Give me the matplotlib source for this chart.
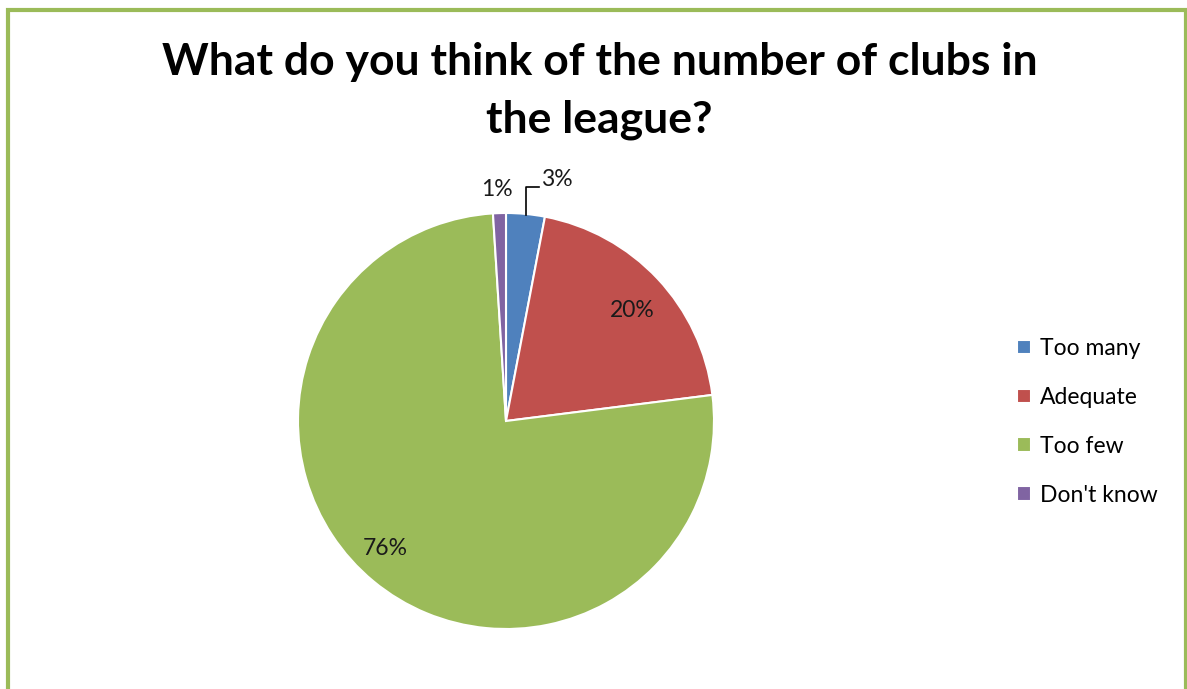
import matplotlib.pyplot as plt
from matplotlib.patches import Rectangle

categories = ['Too many', 'Adequate', 'Too few', "Don't know"]
shares = [3, 20, 76, 1]
colors = ['#4F81BD', '#C0504D', '#9BBB59', '#8064A2']

plt.rcParams['font.family'] = ['Lato', 'DejaVu Sans']

W, H = 1187, 689
fig = plt.figure(figsize=(W / 100, H / 100), dpi=100)

# green frame around the chart area
fig.patches.append(Rectangle((8 / W, -0.01), (1186 - 8) / W, (H - 10) / H + 0.01,
                             transform=fig.transFigure, fill=False,
                             edgecolor='#9BBB59', linewidth=3))

cx, cy, r = 506, 421, 208
ax = fig.add_axes([(cx - r) / W, (H - cy - r) / H, 2 * r / W, 2 * r / H])
wedges, _ = ax.pie(shares, colors=colors, startangle=90, counterclock=False,
                   radius=1, wedgeprops=dict(edgecolor='white', linewidth=1.5))
ax.set_xlim(-1, 1)
ax.set_ylim(-1, 1)
ax.set_aspect('equal')
ax.axis('off')

# percentage labels
label_pos = [(0.168, 1.16), (0.608, 0.53), (-0.582, -0.611), (-0.043, 1.112)]
label_ha = ['left', 'center', 'center', 'center']
for (x, y), ha, v in zip(label_pos, label_ha, shares):
    ax.text(x, y, f'{v}%', ha=ha, va='center', fontsize=16.5, color='#1a1a1a',
            clip_on=False)

# leader line for the small 'Too many' slice
ax.plot([0.096, 0.096, 0.159], [0.99, 1.125, 1.125], color='black', lw=1.2, clip_on=False)

fig.text(0.505, (H - 62) / H, 'What do you think of the number of clubs in',
         ha='center', va='center', fontsize=32, fontweight='bold')
fig.text(0.505, (H - 120) / H, 'the league?',
         ha='center', va='center', fontsize=32, fontweight='bold')

leg = fig.legend(wedges, categories, loc='center left',
                 bbox_to_anchor=(996 / W, (H - 422) / H), frameon=False,
                 fontsize=16.5, handlelength=0.62, handleheight=0.62,
                 handletextpad=0.4, labelspacing=1.22)

fig.savefig('out.png', dpi=100, facecolor='white')
